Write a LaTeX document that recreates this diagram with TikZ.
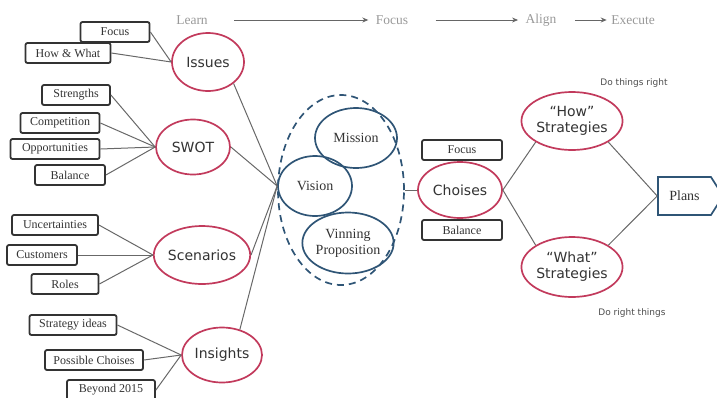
\documentclass[tikz,border=0pt]{standalone}
\usepackage{fontspec}
\setmainfont{Liberation Serif}
\newfontfamily\ellsans{DejaVu Sans}
\usepackage{tikz}
\usetikzlibrary{arrows.meta,shapes.geometric,shapes.symbols}
\definecolor{rosered}{HTML}{C23A5C}
\definecolor{steelnavy}{HTML}{2F5576}
\definecolor{linegray}{HTML}{686868}
\definecolor{boxgray}{HTML}{333333}

\begin{document}
\begin{tikzpicture}[
  x=1pt, y=-1pt,
  tag/.style={draw=boxgray,line width=1.8pt,rounded corners=2pt,minimum height=20pt,inner sep=0pt,text=boxgray,font=\fontsize{12}{13}\selectfont},
  topic/.style={ellipse,draw=rosered,line width=1.7pt,fill=white,inner sep=0pt,text=black!80,font=\ellsans\fontsize{14}{16}\selectfont,align=center},
  core/.style={ellipse,draw=steelnavy,line width=1.7pt,inner sep=0pt,text=black!80,font=\fontsize{14}{16}\selectfont,align=center},
  stage/.style={text=black!40,font=\fontsize{13.5}{15}\selectfont},
  link/.style={draw=linegray,line width=1pt},
  flow/.style={draw=black!60,line width=1pt,-{Stealth[length=6pt,width=5pt]}},
  note/.style={text=black!70,font=\ellsans\fontsize{9}{10}\selectfont}
]
\useasboundingbox (0,0) rectangle (717,397);

% stages
\node[stage] (learn) at (192,20) {Learn};
\node[stage] (focus) at (392,20) {Focus};
\node[stage] (align) at (541,20) {Align};
\node[stage] (execute) at (633,20) {Execute};
\draw[flow,shorten <=23pt,shorten >=4pt] (learn.east) -- (focus.west);
\draw[flow,shorten <=24pt,shorten >=4pt] (focus.east) -- (align.west);
\draw[flow,shorten <=15pt,shorten >=1pt] (align.east) -- (execute.west);

% left side
\node[topic,minimum width=72pt,minimum height=58pt] (issues) at (208,62) {Issues};
\node[topic,minimum width=74pt,minimum height=55pt] (swot) at (193,147) {SWOT};
\node[topic,minimum width=84pt,minimum height=58pt] (scen) at (202,255) {Scenarios};
\node[topic,minimum width=80pt,minimum height=55pt] (ins) at (222,355) {Insights};

\node[tag,minimum width=69pt] (focusA) at (115,32) {Focus};
\node[tag,minimum width=85pt] (howwhat) at (68,53) {How \& What};
\node[tag,minimum width=68pt] (strengths) at (76,95) {Strengths};
\node[tag,minimum width=79pt] (compet) at (60,123) {Competition};
\node[tag,minimum width=89pt] (opport) at (55,149) {Opportunities};
\node[tag,minimum width=70pt] (balanceA) at (70,175) {Balance};
\node[tag,minimum width=86pt] (uncert) at (55,225) {Uncertainties};
\node[tag,minimum width=70pt] (custom) at (42,255) {Customers};
\node[tag,minimum width=67pt] (roles) at (65,284) {Roles};
\node[tag,minimum width=87pt] (ideas) at (73,325) {Strategy ideas};
\node[tag,minimum width=98pt] (possible) at (94,360) {Possible Choises};
\node[tag,minimum width=88pt] (beyond) at (111,390) {Beyond 2015};

\foreach \t in {focusA,howwhat} \draw[link] (\t.east) -- (issues.west);
\foreach \t in {strengths,compet,opport,balanceA} \draw[link] (\t.east) -- (swot.west);
\foreach \t in {uncert,custom,roles} \draw[link] (\t.east) -- (scen.west);
\foreach \t in {ideas,possible,beyond} \draw[link] (\t.east) -- (ins.west);

% core
\node[core,minimum width=74pt,minimum height=60pt] (vision) at (315,186) {Vision};
\node[core,minimum width=82pt,minimum height=60pt] (mission) at (356,138) {Mission};
\node[core,minimum width=90pt,minimum height=61pt] (vinning) at (348,243) {Vinning\\Proposition};
\node[ellipse,draw=steelnavy,line width=1.7pt,dash pattern=on 7pt off 5pt,minimum width=126pt,minimum height=190pt] (group) at (341,190) {};

\draw[link] (issues.-40) -- (vision.west);
\draw[link] (swot.east) -- (vision.west);
\draw[link] (scen.east) -- (vision.west);
\draw[link] (ins.55) -- (vision.west);

% right side
\node[tag,minimum width=80pt] (focusB) at (462,150) {Focus};
\node[tag,minimum width=80pt] (balanceB) at (462,230) {Balance};
\node[topic,minimum width=84pt,minimum height=56pt] (choises) at (460,190) {Choises};
\node[topic,minimum width=84pt,minimum height=58pt] (how) at (572,121) {“How”\\Strategies};
\node[topic,minimum width=84pt,minimum height=60pt] (what) at (572,267) {“What”\\Strategies};
\node[signal,signal to=east,signal pointer angle=115,draw=steelnavy,line width=1.7pt,minimum width=65pt,minimum height=38pt,text=black!80,font=\fontsize{14}{15}\selectfont] (plans) at (684.5,196) {Plans};

\node[note] (right) at (634,83) {Do things right};
\node[note] (things) at (632,313) {Do right things};

\draw[link] (group.east) -- (choises.west);
\draw[link] (choises.east) -- (how.south west);
\draw[link] (choises.east) -- (what.north west);
\draw[link] (how.south east) -- (plans.west);
\draw[link] (what.north east) -- (plans.west);
\end{tikzpicture}
\end{document}
